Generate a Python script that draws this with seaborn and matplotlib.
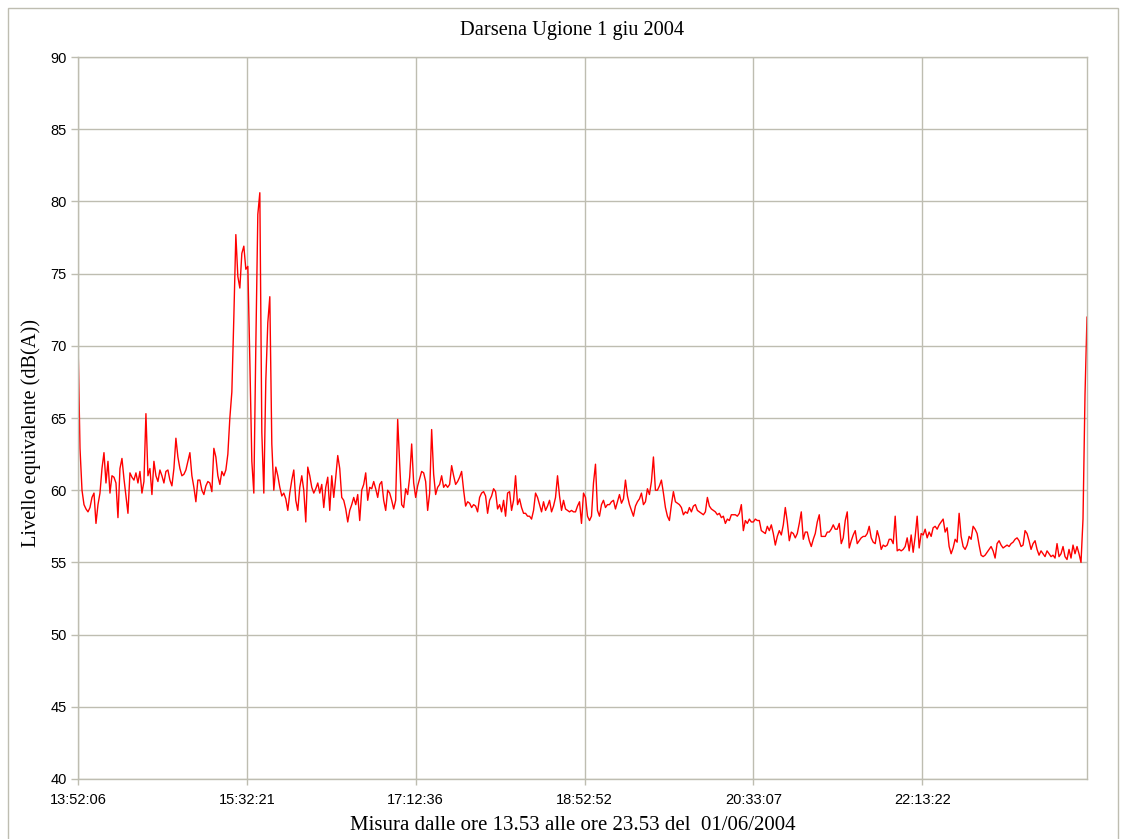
import numpy as np
import pandas as pd
import seaborn as sns
import matplotlib.pyplot as plt
from matplotlib.patches import Rectangle

title = 'Darsena Ugione 1 giu 2004'
x_label = 'Misura dalle ore 13.53 alle ore 23.53 del  01/06/2004'
y_label = 'Livello equivalente (dB(A))'
day = '2004-06-01'
t_start = '13:52:06'
t_end = '23:51:10'
tick_labels = ['13:52:06', '15:32:21', '17:12:36', '18:52:52', '20:33:07', '22:13:22']
y_ticks = [40, 45, 50, 55, 60, 65, 70, 75, 80, 85, 90]

# livello equivalente, passo costante
leq_db = [
    # 13:52 - 15:05
    70.3, 62.9, 60.0, 59.0, 58.7, 58.5, 58.8, 59.5, 59.8, 57.7, 59.0, 59.8, 61.5, 62.6, 60.5, 62.0,
    59.8, 61.0, 60.9, 60.5, 58.1, 61.5, 62.2, 60.8, 59.6, 58.4, 61.2, 60.9, 60.7, 61.2, 60.5, 61.3,
    59.8, 60.6, 65.3, 61.0, 61.5, 59.7, 62.0, 61.0, 60.6, 61.4, 61.0, 60.5, 61.3, 61.4, 60.7, 60.3,
    61.5, 63.6, 62.3, 61.5, 61.0, 61.1, 61.4, 62.0, 62.6, 61.0, 60.2, 59.2, 60.7, 60.7, 60.0, 59.7,
    # 15:05 - 16:18
    60.3, 60.6, 60.5, 59.9, 62.9, 62.3, 61.0, 60.4, 61.3, 61.0, 61.4, 62.5, 65.0, 66.8, 72.0, 77.7,
    74.8, 74.0, 76.4, 76.9, 75.3, 75.5, 69.0, 62.0, 59.8, 70.0, 79.1, 80.6, 64.0, 59.8, 67.6, 71.6,
    73.4, 63.2, 60.0, 61.6, 61.0, 60.2, 59.6, 59.8, 59.4, 58.6, 59.8, 60.7, 61.4, 59.3, 58.6, 60.2,
    61.0, 60.0, 57.8, 61.6, 61.0, 60.2, 59.8, 60.1, 60.5, 59.8, 60.4, 58.8, 60.2, 60.9,
    # 16:18 - 17:31
    58.6, 61.0, 59.5, 60.9, 62.4, 61.5, 59.5, 59.3, 58.7, 57.8, 58.6, 59.0, 59.5, 59.0, 59.7, 57.9,
    60.0, 60.4, 61.2, 59.3, 60.2, 60.1, 60.6, 60.1, 59.5, 60.4, 60.6, 59.3, 58.6, 60.0, 59.8, 59.3,
    58.7, 59.3, 64.9, 61.8, 59.0, 58.8, 60.1, 59.7, 60.9, 63.2, 60.5, 59.5, 60.3, 60.8, 61.3, 61.2,
    60.6, 58.6, 59.8, 64.2, 61.1, 59.7, 60.2, 60.4, 61.0, 60.2, 60.4, 60.2, 60.4, 61.7,
    # 17:31 - 18:46
    61.0, 60.4, 60.6, 60.9, 61.3, 60.0, 58.9, 59.2, 59.1, 58.8, 59.0, 58.9, 58.5, 59.5, 59.8, 59.9,
    59.6, 58.4, 59.3, 59.6, 60.1, 59.9, 58.7, 59.0, 58.5, 59.3, 58.2, 59.8, 59.9, 58.6, 59.3, 61.0,
    59.0, 59.4, 58.8, 58.4, 58.4, 58.2, 58.2, 58.0, 58.6, 59.8, 59.5, 59.0, 58.5, 59.2, 58.6, 58.9,
    59.3, 58.5, 58.9, 59.5, 61.0, 59.6, 58.6, 59.3, 58.7, 58.6, 58.5, 58.6, 58.5, 58.5, 58.9,
    # 18:46 - 19:59
    59.2, 57.7, 59.8, 59.5, 58.2, 57.9, 58.2, 60.5, 61.8, 58.6, 58.2, 59.0, 59.3, 58.8, 59.0, 59.0,
    59.2, 59.3, 58.7, 59.2, 59.7, 59.1, 59.4, 60.7, 59.6, 59.0, 58.6, 58.2, 58.9, 59.2, 59.4, 59.8,
    59.0, 59.2, 60.1, 59.7, 60.6, 62.3, 60.0, 60.0, 60.3, 60.7, 59.8, 58.8, 58.2, 57.9, 59.0, 59.9,
    59.2, 59.1, 59.0, 58.8, 58.3, 58.5, 58.4, 58.8, 58.5, 58.9, 59.0, 58.6, 58.5, 58.4,
    # 19:59 - 21:13
    58.3, 58.5, 59.5, 58.9, 58.7, 58.6, 58.5, 58.3, 58.4, 58.1, 58.2, 57.7, 58.0, 57.9, 58.3, 58.3,
    58.3, 58.2, 58.4, 59.0, 57.2, 57.9, 57.7, 58.0, 57.8, 57.8, 58.0, 57.9, 57.9, 57.2, 57.1, 57.0,
    57.5, 57.2, 57.6, 57.0, 56.2, 56.8, 57.2, 56.9, 57.6, 58.8, 57.8, 56.5, 57.1, 57.0, 56.7, 57.0,
    57.7, 58.5, 56.6, 57.1, 57.1, 56.5, 56.1, 56.6, 57.0, 57.8, 58.3, 56.8, 56.8, 56.8, 57.1,
    # 21:13 - 22:27
    57.1, 57.3, 57.6, 57.3, 57.3, 57.7, 56.3, 56.7, 57.9, 58.5, 56.0, 56.5, 56.9, 57.2, 56.3, 56.5,
    56.7, 56.8, 56.8, 57.0, 57.5, 56.7, 56.4, 56.3, 57.2, 56.7, 55.9, 56.2, 56.1, 56.2, 56.6, 56.6,
    56.3, 58.2, 55.8, 55.9, 55.8, 55.9, 56.1, 56.7, 55.8, 56.9, 55.7, 56.8, 58.2, 56.0, 57.0, 56.9,
    57.3, 56.7, 57.1, 56.8, 57.4, 57.5, 57.3, 57.6, 57.8, 58.0, 57.1, 57.4, 56.1, 55.6, 56.0,
    # 22:27 - 23:51
    56.6, 56.4, 58.4, 56.8, 56.1, 55.9, 56.2, 56.8, 56.6, 57.5, 57.3, 57.0, 56.2, 55.5, 55.4, 55.5,
    55.7, 55.9, 56.1, 55.8, 55.3, 56.3, 56.5, 56.2, 56.0, 56.1, 56.2, 56.1, 56.3, 56.4, 56.6, 56.7,
    56.5, 56.1, 56.2, 57.2, 57.0, 56.5, 55.9, 56.3, 56.5, 55.9, 55.5, 55.8, 55.6, 55.4, 55.8, 55.6,
    55.4, 55.5, 55.3, 56.3, 55.4, 55.6, 56.1, 55.4, 55.2, 55.9, 55.3, 56.2, 55.6, 56.1, 55.6, 55.0,
    58.0, 66.6, 72.0,
]

times = pd.date_range(f'{day} {t_start}', f'{day} {t_end}', periods=len(leq_db))
df = pd.DataFrame({'ora': times, 'leq': leq_db})
tick_times = pd.to_datetime([f'{day} {t}' for t in tick_labels])

grid_col = '#bebdb1'

sns.set_style('white')
plt.rcParams['font.family'] = ['Liberation Serif', 'DejaVu Serif']
plt.rcParams['text.color'] = 'black'

fig = plt.figure(figsize=(11.29, 8.39), dpi=100)
fig.patches.append(Rectangle((8 / 1129, -0.05), 1110 / 1129, 1.0405, transform=fig.transFigure,
                             fill=False, edgecolor=grid_col, linewidth=1.0))
ax = fig.add_axes([78 / 1129, 60 / 839, 1009 / 1129, 722 / 839])

sns.lineplot(data=df, x='ora', y='leq', color='#ff0000', linewidth=1.0, ax=ax)

ax.set_xlim(times[0], times[-1])
ax.set_ylim(40, 90)
ax.set_yticks(y_ticks)
ax.set_yticklabels([str(v) for v in y_ticks], family=['Liberation Sans'], fontsize=10.5)
ax.set_xticks(tick_times)
ax.set_xticklabels(tick_labels, family=['Liberation Sans'], fontsize=10.5)
ax.grid(True, color=grid_col, linewidth=1.0)
ax.set_axisbelow(True)
for s in ax.spines.values():
    s.set_color(grid_col)
    s.set_linewidth(1.0)
ax.tick_params(axis='y', length=5, width=1.0, color=grid_col, labelcolor='black', pad=3, left=True)
ax.tick_params(axis='x', length=4, width=1.0, color=grid_col, labelcolor='black', pad=6, bottom=True)
ax.set_xlabel('')
ax.set_ylabel('')

fig.text(572 / 1129, 1 - 31 / 839, title, ha='center', va='center', fontsize=14.7)
fig.text(573 / 1129, 1 - 826 / 839, x_label, ha='center', va='center', fontsize=15)
fig.text(31 / 1129, 1 - 433 / 839, y_label, ha='center', va='center', rotation=90, fontsize=14.7)

fig.savefig('out.png', dpi=100)
